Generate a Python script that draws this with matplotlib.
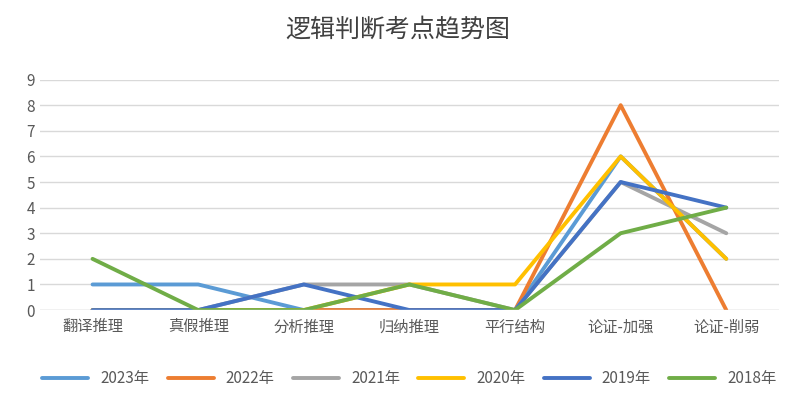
import matplotlib.pyplot as plt

plt.rcParams['font.family'] = ['Noto Sans CJK JP', 'Noto Sans CJK SC', 'DejaVu Sans']

categories = ['翻译推理', '真假推理', '分析推理', '归纳推理', '平行结构', '论证-加强', '论证-削弱']
y2023 = [1, 1, 0, 0, 0, 6, 2]
y2022 = [0, 0, 0, 0, 0, 8, 0]
y2021 = [0, 0, 1, 1, 0, 5, 3]
y2020 = [0, 0, 0, 1, 1, 6, 2]
y2019 = [0, 0, 1, 0, 0, 5, 4]
y2018 = [2, 0, 0, 1, 0, 3, 4]

series = [('2023年', y2023, '#5B9BD5'), ('2022年', y2022, '#ED7D31'),
          ('2021年', y2021, '#A5A5A5'), ('2020年', y2020, '#FFC000'),
          ('2019年', y2019, '#4472C4'), ('2018年', y2018, '#70AD47')]

fig = plt.figure(figsize=(7.95, 4.08), dpi=100)
ax = fig.add_axes([0.05, 0.24, 0.93, 0.565])
x = range(len(categories))
for name, vals, c in series:
    ax.plot(x, vals, color=c, lw=2.8, label=name, solid_capstyle='round')

ax.set_ylim(0, 9)
ax.set_yticks(range(10))
ax.set_xlim(-0.5, len(categories) - 0.5)
ax.set_xticks(list(x))
ax.set_xticklabels(categories, fontsize=11, color='#595959')
ax.tick_params(axis='y', labelsize=11, labelcolor='#595959', length=0)
ax.tick_params(axis='x', length=0, pad=6)
ax.grid(axis='y', color='#D9D9D9', lw=1)
ax.set_axisbelow(True)
for s in ax.spines.values():
    s.set_visible(False)
ax.axhline(0, color='#D9D9D9', lw=1)

fig.suptitle('逻辑判断考点趋势图', fontsize=18, color='#404040', y=0.96)
ax.legend(loc='upper center', bbox_to_anchor=(0.5, -0.2), ncol=6, frameon=False,
          fontsize=11, labelcolor='#595959', handlelength=3, columnspacing=1.2)

fig.savefig('out.png')
